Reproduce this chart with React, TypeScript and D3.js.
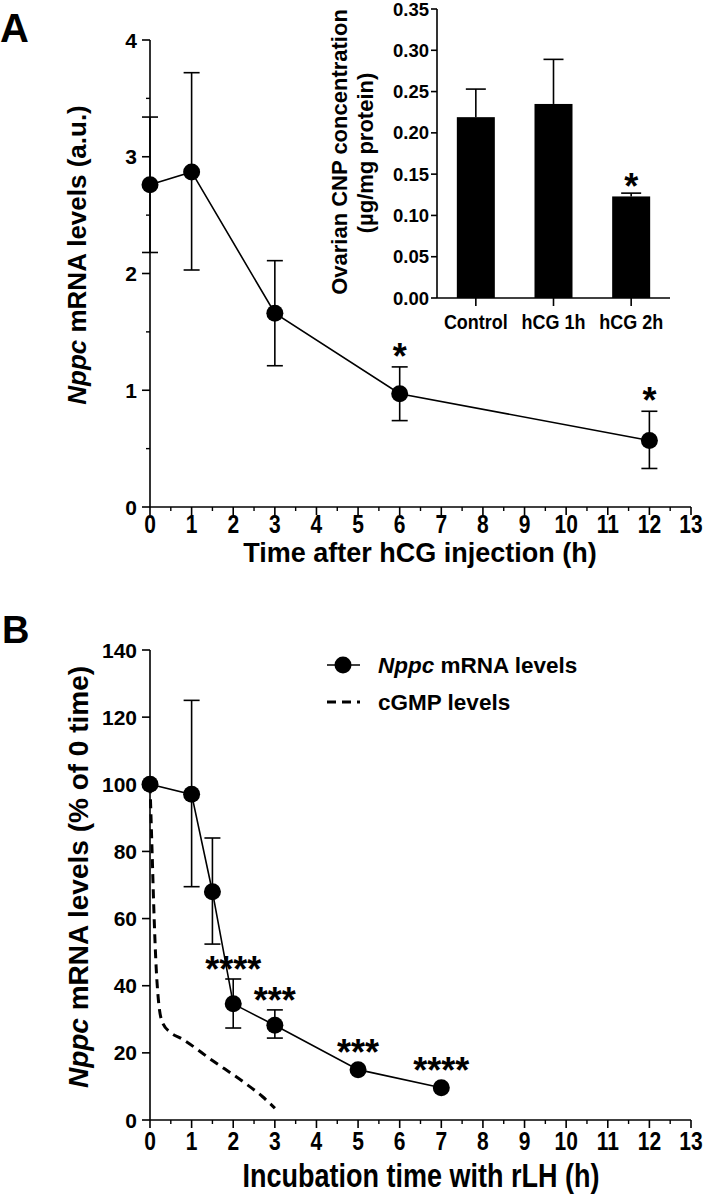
import React from "react";
import * as d3 from "d3";

// ---------- Panel A data ----------
const timeA = [0, 1, 3, 6, 12];
const meanA = [2.76, 2.87, 1.66, 0.97, 0.57];
const upperA = [3.34, 3.72, 2.11, 1.2, 0.82];
const lowerA = [2.18, 2.03, 1.21, 0.74, 0.33];
const sigA = ["", "", "", "*", "*"];
const yTicksA = [0, 1, 2, 3, 4];
const xTicks = d3.range(0, 14);

// ---------- Inset data ----------
const insetCats = ["Control", "hCG 1h", "hCG 2h"];
const insetVals = [0.219, 0.235, 0.123];
const insetUpper = [0.253, 0.289, 0.127];
const insetSig = ["", "", "*"];
const insetTicks = [0, 0.05, 0.1, 0.15, 0.2, 0.25, 0.3, 0.35];

// ---------- Panel B data ----------
const timeB = [0, 1, 1.5, 2, 3, 5, 7];
const meanB = [100, 97, 68, 34.6, 28.2, 15, 9.6];
const upperB = [null, 125, 84, 42, 32.8, null, null];
const lowerB = [null, 69.5, 52.4, 27.4, 24.4, null, null];
const sigB = ["", "", "", "****", "***", "***", "****"];
const cgmpT = [0, 0.05, 0.1, 0.15, 0.2, 0.3, 0.5, 0.75, 1.5, 2.25, 2.7, 3];
const cgmpV = [100, 80, 60, 45, 36, 29, 26, 24.3, 17.7, 11.3, 7, 3.5];
const yTicksB = [0, 20, 40, 60, 80, 100, 120, 140];

const FONT = "'Liberation Sans', Arial, Helvetica, sans-serif";

function SText(props: { x: number; y: number; sy?: number; size: number; anchor?: string; children: React.ReactNode }) {
  const { x, y, sy = 1.2, size, anchor = "middle", children } = props;
  return (
    <text transform={`translate(${x},${y}) scale(1,${sy})`} fontSize={size} fontWeight="bold" textAnchor={anchor}>
      {children}
    </text>
  );
}

export default function App() {
  const xA = d3.scaleLinear().domain([0, 13]).range([150, 691]);
  const yA = d3.scaleLinear().domain([0, 4]).range([507, 40]);
  const xI = d3.scalePoint<string>().domain(insetCats).range([437, 670]).padding(0.5);
  const yI = d3.scaleLinear().domain([0, 0.35]).range([298, 9]);
  const xB = d3.scaleLinear().domain([0, 13]).range([150, 691]);
  const yB = d3.scaleLinear().domain([0, 140]).range([1120, 650]);

  const lineA = d3.line<number>().x((_, i) => xA(timeA[i])).y((d) => yA(d))(meanA) || "";
  const lineB = d3.line<number>().x((_, i) => xB(timeB[i])).y((d) => yB(d))(meanB) || "";
  const lineC =
    d3
      .line<number>()
      .x((_, i) => xB(cgmpT[i]))
      .y((d) => yB(d))
      .curve(d3.curveMonotoneX)(cgmpV) || "";

  const minorX = d3.range(0.5, 13, 1);
  const minorYA = d3.range(0.5, 4, 1);
  const bw = 38;
  const cap = 16;
  const i0 = yI(0);

  return (
    <svg width={706} height={1194} style={{ display: "block", position: "absolute", left: 0, top: 0 }} fontFamily={FONT}>
      <rect width={706} height={1194} fill="#fff" />
      {/* ===== Panel A ===== */}
      <text x={0} y={42} fontSize={40} fontWeight="bold">A</text>
      <line x1={150} x2={150} y1={yA(4)} y2={yA(0)} stroke="#000" strokeWidth={1.6} />
      {yTicksA.map((t) => (
        <g key={"ya" + t}>
          <line x1={142} x2={150} y1={yA(t)} y2={yA(t)} stroke="#000" strokeWidth={1.6} />
          <text x={137} y={yA(t) + 7.5} fontSize={21} fontWeight="bold" textAnchor="end">{t}</text>
        </g>
      ))}
      {minorYA.map((t) => (
        <line key={"mya" + t} x1={146} x2={150} y1={yA(t)} y2={yA(t)} stroke="#000" strokeWidth={1.4} />
      ))}
      <line x1={150} x2={691} y1={507} y2={507} stroke="#000" strokeWidth={1.6} />
      {xTicks.map((t) => (
        <g key={"xa" + t}>
          <line x1={xA(t)} x2={xA(t)} y1={507} y2={515} stroke="#000" strokeWidth={1.6} />
          <SText x={xA(t)} y={533} size={21}>{t}</SText>
        </g>
      ))}
      {minorX.map((t) => (
        <line key={"mxa" + t} x1={xA(t)} x2={xA(t)} y1={507} y2={511} stroke="#000" strokeWidth={1.4} />
      ))}
      <text x={420} y={562} fontSize={27} fontWeight="bold" textAnchor="middle">Time after hCG injection (h)</text>
      <text transform={`translate(86,255) rotate(-90)`} fontSize={26} fontWeight="bold" textAnchor="middle">
        <tspan fontStyle="italic">Nppc</tspan> mRNA levels (a.u.)
      </text>
      {timeA.map((t, i) => (
        <g key={"ea" + i} stroke="#000" strokeWidth={1.6}>
          <line x1={xA(t)} x2={xA(t)} y1={yA(upperA[i])} y2={yA(lowerA[i])} />
          <line x1={xA(t) - cap / 2} x2={xA(t) + cap / 2} y1={yA(upperA[i])} y2={yA(upperA[i])} />
          <line x1={xA(t) - cap / 2} x2={xA(t) + cap / 2} y1={yA(lowerA[i])} y2={yA(lowerA[i])} />
        </g>
      ))}
      <path d={lineA} fill="none" stroke="#000" strokeWidth={1.6} />
      {timeA.map((t, i) => (
        <circle key={"pa" + i} cx={xA(t)} cy={yA(meanA[i])} r={8.5} fill="#000" />
      ))}
      {timeA.map((t, i) =>
        sigA[i] ? (
          <text key={"sa" + i} x={xA(t)} y={yA(upperA[i]) - 18 + 20} fontSize={36} fontWeight="bold" textAnchor="middle">
            {sigA[i]}
          </text>
        ) : null
      )}

      {/* ===== Inset ===== */}
      {insetCats.map((c, i) => (
        <g key={"bar" + i}>
          <rect x={(xI(c) as number) - bw / 2} y={yI(insetVals[i])} width={bw} height={i0 - yI(insetVals[i])} fill="#000" />
          <line x1={xI(c)} x2={xI(c)} y1={yI(insetVals[i])} y2={yI(insetUpper[i])} stroke="#000" strokeWidth={1.6} />
          <line x1={(xI(c) as number) - 10} x2={(xI(c) as number) + 10} y1={yI(insetUpper[i])} y2={yI(insetUpper[i])} stroke="#000" strokeWidth={1.6} />
          <line x1={xI(c)} x2={xI(c)} y1={i0} y2={i0 + 8} stroke="#000" strokeWidth={1.6} />
          <SText x={xI(c) as number} y={329} size={18} sy={1.15}>{c}</SText>
          {insetSig[i] ? (
            <text x={xI(c)} y={yI(insetUpper[i]) - 14 + 20} fontSize={36} fontWeight="bold" textAnchor="middle">{insetSig[i]}</text>
          ) : null}
        </g>
      ))}
      <line x1={437} x2={437} y1={yI(0.35)} y2={i0} stroke="#000" strokeWidth={1.6} />
      <line x1={437} x2={670} y1={i0} y2={i0} stroke="#000" strokeWidth={1.6} />
      {insetTicks.map((t) => (
        <g key={"yi" + t}>
          <line x1={431} x2={437} y1={yI(t)} y2={yI(t)} stroke="#000" strokeWidth={1.6} />
          <text x={429} y={yI(t) + 6.5} fontSize={18.5} fontWeight="bold" textAnchor="end">{d3.format(".2f")(t)}</text>
        </g>
      ))}
      <text transform={`translate(347,152) rotate(-90)`} fontSize={22} fontWeight="bold" textAnchor="middle">
        Ovarian CNP concentration
      </text>
      <text transform={`translate(373,153) rotate(-90)`} fontSize={22} fontWeight="bold" textAnchor="middle">
        (µg/mg protein)
      </text>

      {/* ===== Panel B ===== */}
      <text x={2} y={643} fontSize={38} fontWeight="bold">B</text>
      <line x1={150} x2={150} y1={yB(140)} y2={yB(0)} stroke="#000" strokeWidth={1.6} />
      {yTicksB.map((t) => (
        <g key={"yb" + t}>
          <line x1={142} x2={150} y1={yB(t)} y2={yB(t)} stroke="#000" strokeWidth={1.6} />
          <text x={137} y={yB(t) + 7.5} fontSize={21} fontWeight="bold" textAnchor="end">{t}</text>
        </g>
      ))}
      <line x1={150} x2={691} y1={1120} y2={1120} stroke="#000" strokeWidth={1.6} />
      {xTicks.map((t) => (
        <g key={"xb" + t}>
          <line x1={xB(t)} x2={xB(t)} y1={1120} y2={1128} stroke="#000" strokeWidth={1.6} />
          <SText x={xB(t)} y={1150} size={21}>{t}</SText>
        </g>
      ))}
      {minorX.map((t) => (
        <line key={"mxb" + t} x1={xB(t)} x2={xB(t)} y1={1120} y2={1124} stroke="#000" strokeWidth={1.4} />
      ))}
      <SText x={421} y={1187} size={27} sy={1.2}>Incubation time with rLH (h)</SText>
      <text transform={`translate(88,877) rotate(-90)`} fontSize={28} fontWeight="bold" textAnchor="middle">
        <tspan fontStyle="italic">Nppc</tspan> mRNA levels (% of 0 time)
      </text>
      <path d={lineC} fill="none" stroke="#000" strokeWidth={3} strokeDasharray="9,6" />
      {timeB.map((t, i) =>
        upperB[i] != null ? (
          <g key={"eb" + i} stroke="#000" strokeWidth={1.6}>
            <line x1={xB(t)} x2={xB(t)} y1={yB(upperB[i] as number)} y2={yB(lowerB[i] as number)} />
            <line x1={xB(t) - cap / 2} x2={xB(t) + cap / 2} y1={yB(upperB[i] as number)} y2={yB(upperB[i] as number)} />
            <line x1={xB(t) - cap / 2} x2={xB(t) + cap / 2} y1={yB(lowerB[i] as number)} y2={yB(lowerB[i] as number)} />
          </g>
        ) : null
      )}
      <path d={lineB} fill="none" stroke="#000" strokeWidth={1.6} />
      {timeB.map((t, i) => (
        <circle key={"pb" + i} cx={xB(t)} cy={yB(meanB[i])} r={8.5} fill="#000" />
      ))}
      {timeB.map((t, i) => {
        if (!sigB[i]) return null;
        const top = upperB[i] != null ? yB(upperB[i] as number) : yB(meanB[i]) - 8;
        return (
          <text key={"sb" + i} x={xB(t)} y={top - 17 + 20} fontSize={36} fontWeight="bold" textAnchor="middle">
            {sigB[i]}
          </text>
        );
      })}
      {/* legend */}
      <line x1={327} x2={360} y1={665} y2={665} stroke="#000" strokeWidth={1.6} />
      <circle cx={343} cy={665} r={8.5} fill="#000" />
      <text x={378} y={673} fontSize={22.5} fontWeight="bold">
        <tspan fontStyle="italic">Nppc</tspan> mRNA levels
      </text>
      <line x1={327} x2={360} y1={702} y2={702} stroke="#000" strokeWidth={3} strokeDasharray="9,6" />
      <text x={378} y={710} fontSize={22.5} fontWeight="bold">cGMP levels</text>
    </svg>
  );
}
